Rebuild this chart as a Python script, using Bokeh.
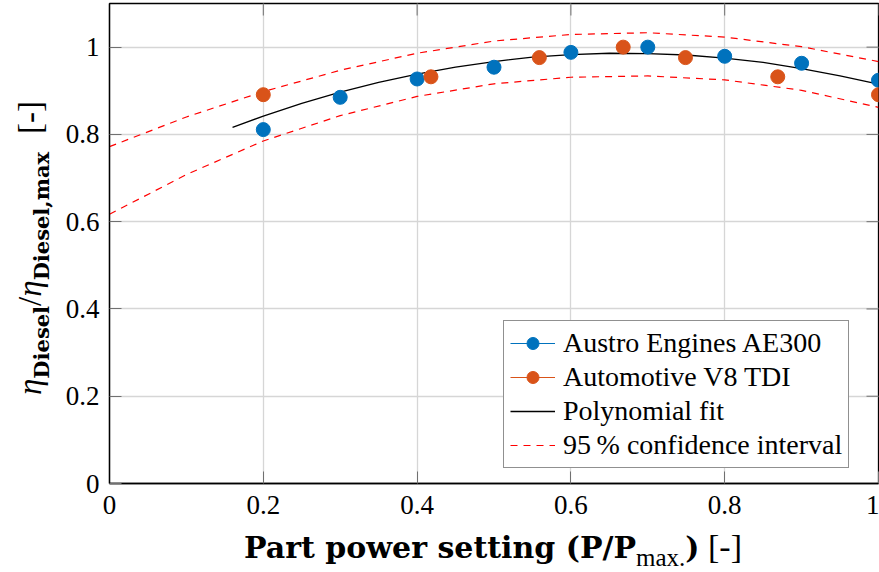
import math

from bokeh.embed import file_html
from bokeh.layouts import column, row
from bokeh.models import (ColumnDataSource, Div, FixedTicker, Legend,
                          LegendItem, Range1d)
from bokeh.plotting import figure
from bokeh.resources import INLINE

# Measured part-power efficiency ratios
ae300_x = [0.2, 0.3, 0.4, 0.5, 0.6, 0.7, 0.8, 0.9, 1.0]
ae300_y = [0.811, 0.885, 0.927, 0.954, 0.988, 1.0, 0.979, 0.963, 0.924]

v8_x = [0.2, 0.418, 0.559, 0.668, 0.749, 0.869, 1.0]
v8_y = [0.891, 0.932, 0.976, 1.0, 0.976, 0.932, 0.891]

# Polynomial fit curve
fit_x = [0.16, 0.2, 0.25, 0.3, 0.35, 0.4, 0.45, 0.5, 0.55, 0.6, 0.65,
         0.7, 0.75, 0.8, 0.85, 0.9, 0.95, 1.0]
fit_y = [0.816, 0.842, 0.871, 0.897, 0.919, 0.938, 0.954, 0.967, 0.977,
         0.983, 0.986, 0.985, 0.982, 0.975, 0.965, 0.951, 0.934, 0.915]

# 95 % confidence band
ci_x = [0.0, 0.1, 0.2, 0.3, 0.4, 0.5, 0.6, 0.7, 0.8, 0.9, 1.0]
ci_upper = [0.772, 0.840, 0.898, 0.947, 0.986, 1.014, 1.029, 1.033, 1.023, 1.001, 0.967]
ci_lower = [0.617, 0.708, 0.785, 0.843, 0.887, 0.916, 0.931, 0.934, 0.925, 0.901, 0.862]

x_ticks = [0, 0.2, 0.4, 0.6, 0.8, 1]
y_ticks = [0, 0.2, 0.4, 0.6, 0.8, 1]
tick_labels = {0: "0", 0.2: "0.2", 0.4: "0.4", 0.6: "0.6", 0.8: "0.8", 1: "1"}

X_MAX = 1.0
Y_MAX = 1.1

BLUE = "#0072BD"
ORANGE = "#D95319"
RED = "#FF0000"
TICK = "#707070"
SERIF = "Liberation Serif"
BOLD_SERIF = "DejaVu Serif"

YLABEL_W = 60
PLOT_H = 530

p = figure(width=879 - YLABEL_W, height=PLOT_H, output_backend="svg",
           toolbar_location=None,
           x_range=Range1d(0, X_MAX), y_range=Range1d(0, Y_MAX),
           min_border_left=109 - YLABEL_W, min_border_right=1,
           min_border_top=3, min_border_bottom=PLOT_H - 483)
p.background_fill_color = "white"
p.border_fill_color = "white"
p.outline_line_color = "black"
p.outline_line_width = 1.3

for ax, ticks in ((p.xaxis, x_ticks), (p.yaxis, y_ticks)):
    ax.ticker = FixedTicker(ticks=ticks)
    ax.major_label_overrides = tick_labels
    ax.major_label_text_font = SERIF
    ax.major_label_text_font_size = "27px"
    ax.major_label_text_color = "black"
    ax.axis_line_color = "black"
    ax.axis_line_width = 1.3
    ax.major_tick_in = 12
    ax.major_tick_out = 0
    ax.major_tick_line_color = TICK
    ax.minor_tick_line_color = None
p.xaxis.major_label_standoff = 12
p.yaxis.major_label_standoff = 10

p.xgrid.ticker = FixedTicker(ticks=x_ticks)
p.ygrid.ticker = FixedTicker(ticks=y_ticks)
p.grid.grid_line_color = "#d6d6d6"
p.grid.grid_line_width = 1.3

# mirrored inner ticks along the top and right edges
p.ray(x=x_ticks, y=[Y_MAX] * len(x_ticks), length=12, length_units="screen",
      angle=-math.pi / 2, line_color=TICK, line_width=1)
p.ray(x=[X_MAX] * len(y_ticks), y=y_ticks, length=12, length_units="screen",
      angle=math.pi, line_color=TICK, line_width=1)

ae_src = ColumnDataSource(dict(x=ae300_x, y=ae300_y))
v8_src = ColumnDataSource(dict(x=v8_x, y=v8_y))

ci_up = p.line(ci_x, ci_upper, line_color=RED, line_width=1.2, line_dash="7 6")
p.line(ci_x, ci_lower, line_color=RED, line_width=1.2, line_dash="7 6")
fit = p.line(fit_x, fit_y, line_color="black", line_width=1.3)

# line-only renderers that give the legend keys their connecting stroke
nan = float("nan")
ae_key = p.line(x=[nan], y=[nan], line_color=BLUE, line_width=1)
v8_key = p.line(x=[nan], y=[nan], line_color=ORANGE, line_width=1)
ae = p.scatter("x", "y", source=ae_src, size=14, fill_color=BLUE, line_color=BLUE)
v8 = p.scatter("x", "y", source=v8_src, size=14, fill_color=ORANGE, line_color=ORANGE)

legend = Legend(items=[
    LegendItem(label="Austro Engines AE300", renderers=[ae_key, ae]),
    LegendItem(label="Automotive V8 TDI", renderers=[v8_key, v8]),
    LegendItem(label="Polynomial fit", renderers=[fit]),
    LegendItem(label="95\u2009% confidence interval", renderers=[ci_up]),
], location=(394, 15))
legend.label_text_font = SERIF
legend.label_text_font_size = "28px"
legend.label_text_color = "black"
legend.glyph_width = 45
legend.glyph_height = 30
legend.label_height = 30
legend.label_standoff = 8
legend.spacing = 2
legend.padding = 6
legend.margin = 0
legend.border_line_color = "#222222"
legend.border_line_width = 1
legend.background_fill_color = "white"
legend.background_fill_alpha = 1
p.add_layout(legend, "center")

# y-axis title: eta_Diesel / eta_Diesel,max [-], rotated to read upwards
sub_b = ("font-family:'DejaVu Serif';font-weight:bold;font-size:21px;"
         "line-height:0;vertical-align:-8px;")
ytitle = (
    f'<div style="position:relative;width:{YLABEL_W}px;height:{PLOT_H}px;">'
    '<div style="position:absolute;left:-170px;top:228px;width:400px;height:40px;'
    "line-height:40px;text-align:center;white-space:nowrap;transform:rotate(-90deg);"
    f"font-family:'{SERIF}';font-size:33px;color:black;\">"
    f'<i>\u03b7</i><sub style="{sub_b}">Diesel</sub>/'
    f'<i>\u03b7</i><sub style="{sub_b}">Diesel,max</sub>'
    '<span style="margin-left:18px;">[-]</span>'
    "</div></div>"
)
ydiv = Div(text=ytitle, width=YLABEL_W, height=PLOT_H, margin=0)

# x-axis title: Part power setting (P/P_max.) [-]
xtitle = (
    f'<div style="position:relative;width:879px;height:{572 - PLOT_H}px;">'
    '<div style="position:absolute;left:193px;top:0px;width:600px;height:34px;'
    "line-height:34px;text-align:center;white-space:nowrap;"
    f"font-family:'{BOLD_SERIF}';font-weight:bold;font-size:30px;color:black;\">"
    "Part power setting (P/P"
    f"<sub style=\"font-family:'{SERIF}';font-weight:normal;font-size:25px;"
    'line-height:0;vertical-align:-8px;">max.</sub>)'
    f"<span style=\"font-family:'{SERIF}';font-weight:normal;font-size:34px;\"> [-]</span>"
    "</div></div>"
)
xdiv = Div(text=xtitle, width=879, height=572 - PLOT_H, margin=0)

page = column(row(ydiv, p, spacing=0), xdiv, spacing=0)

open("out.html", "w").write(file_html(page, INLINE))
